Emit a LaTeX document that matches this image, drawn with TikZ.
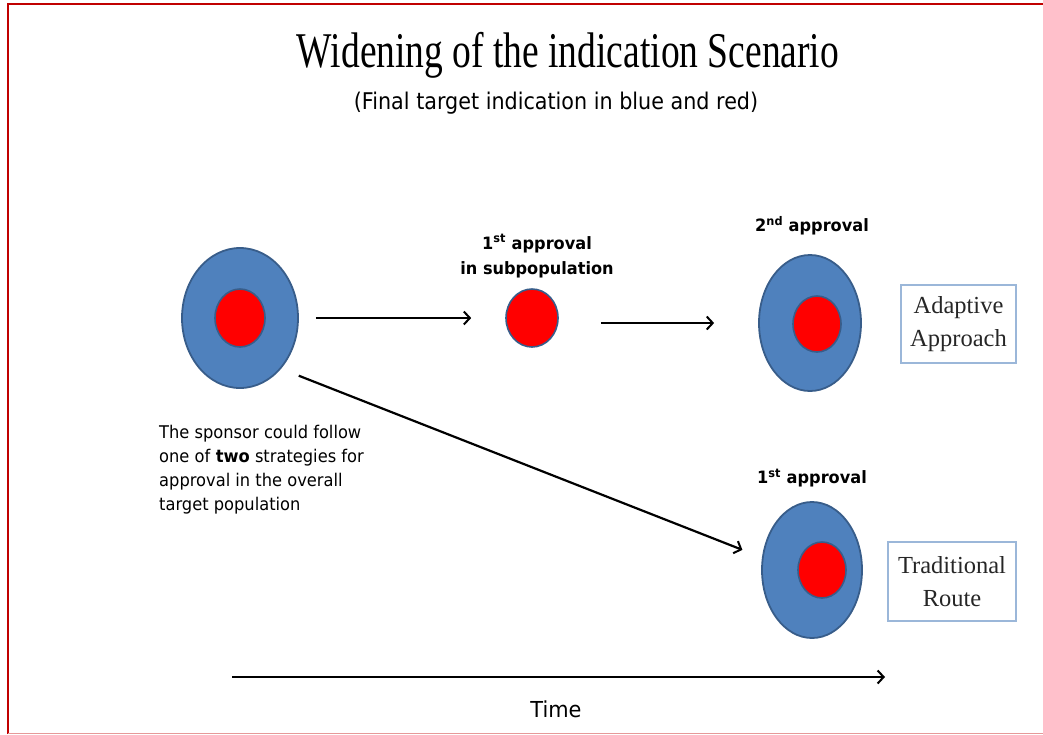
\documentclass[tikz,border=0pt]{standalone}
\usepackage{fontspec}
\usetikzlibrary{shapes.geometric,arrows.meta}
\setmainfont{Liberation Serif}
\newfontfamily\titlefont[FakeStretch=0.75]{Liberation Serif}
\newfontfamily\boxfont{Liberation Serif}
\newfontfamily\labelfont[FakeStretch=0.95]{DejaVu Sans}
\newfontfamily\notefont[FakeStretch=0.93]{DejaVu Sans}
\newfontfamily\subfont[FakeStretch=0.9]{DejaVu Sans}
\definecolor{popblue}{HTML}{4F81BD}
\definecolor{popedge}{HTML}{385D8A}
\definecolor{popred}{HTML}{FF0000}
\definecolor{frame}{HTML}{C00000}
\definecolor{boxedge}{HTML}{9BB7D9}
\tikzset{
  outer/.style={ellipse, draw=popedge, line width=1.8pt, fill=popblue, inner sep=0pt},
  inner/.style={ellipse, draw=popedge, line width=1.6pt, fill=popred, inner sep=0pt,
                minimum width=50pt, minimum height=58pt},
  routebox/.style={draw=boxedge, line width=1.2pt, inner sep=0pt, align=center,
                   font=\boxfont\fontsize{24.5}{33}\selectfont, text=black!85},
  steplabel/.style={font=\labelfont\bfseries\fontsize{17}{25}\selectfont, align=center},
  flow/.style={line width=2.2pt, -{Straight Barb[length=6pt,width=13pt,line width=2pt]}},
}
\begin{document}
\begin{tikzpicture}[x=1pt, y=-1pt]
  \useasboundingbox (0,0) rectangle (1043,734);
  % page frame
  \draw[frame, line width=2.5pt] (8,734) -- (8,4) -- (1043,4);
  \draw[frame!40, line width=1pt] (8,733.5) -- (1043,733.5);

  % headings
  \node (title) at (568,55) {\titlefont\fontsize{50}{60}\selectfont Widening of the indication Scenario};
  \node (subtitle) at (556,103) {\subfont\fontsize{23}{26}\selectfont (Final target indication in blue and red)};

  % overall target population
  \node[outer, minimum width=116pt, minimum height=140pt] (start) at (240,318) {};
  \node[inner] (startcore) at (240,318) {};

  % first approval in subpopulation
  \node[inner, minimum width=52pt, minimum height=58pt] (sub) at (532,318) {};
  \node[steplabel] (sublabel) at (537,256) {1\textsuperscript{st} approval\\in subpopulation};

  % adaptive route: second approval
  \node[outer, minimum width=102pt, minimum height=136pt] (second) at (810,323) {};
  \node[inner, minimum width=48pt, minimum height=56pt] (secondcore) at (817,324) {};
  \node[steplabel] (secondlabel) at (812,226) {2\textsuperscript{nd} approval};
  \node[routebox, minimum width=115pt, minimum height=78pt] (adaptive) at (958.5,324) {Adaptive\\Approach};

  % traditional route: single approval
  \node[outer, minimum width=100pt, minimum height=136pt] (trad) at (812,570) {};
  \node[inner, minimum width=48pt, minimum height=56pt] (tradcore) at (822,570) {};
  \node[steplabel] (tradlabel) at (812,478) {1\textsuperscript{st} approval};
  \node[routebox, minimum width=128pt, minimum height=79pt] (traditional) at (952,581.5) {Traditional\\Route};

  % explanation
  \node[anchor=north west, align=left, inner sep=0pt,
        font=\notefont\fontsize{17.5}{24}\selectfont] (note) at (159,425)
    {The sponsor could follow\\one of \textbf{two} strategies for\\approval in the overall\\target population};

  % connectors
  \draw[flow, shorten <=17pt, shorten >=34pt] (start.east) -- (sub.west);
  \draw[flow, shorten <=42pt, shorten >=44pt] (sub.east |- second.west) -- (second.west);
  \draw[flow, shorten <=19pt, shorten >=21pt] (start.-51) -- (trad.166);

  % time axis
  \coordinate (t0) at (232,677);
  \coordinate (t1) at (885,677);
  \draw[flow] (t0) -- (t1);
  \node[font=\labelfont\fontsize{22}{26}\selectfont] (time) at (556,709) {Time};
\end{tikzpicture}
\end{document}
